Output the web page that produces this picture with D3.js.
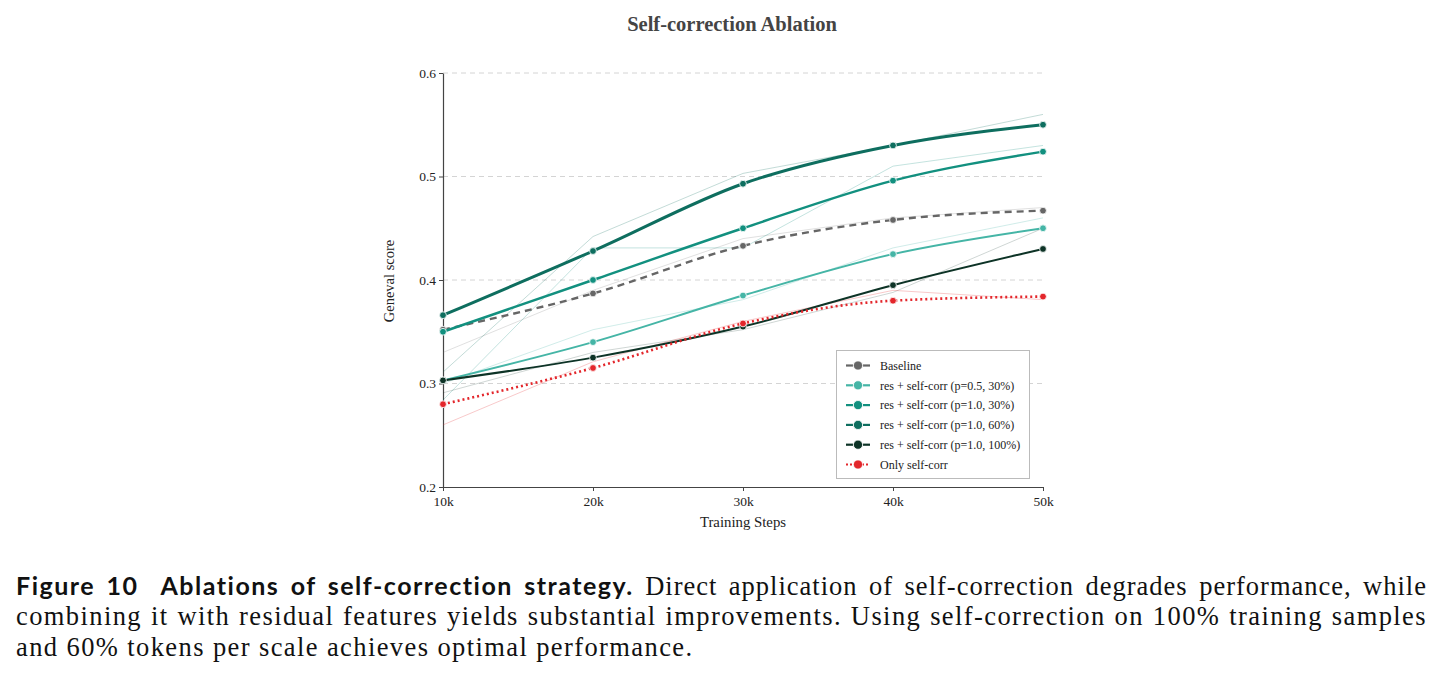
<!DOCTYPE html>
<html>
<head>
<meta charset="utf-8">
<script src="https://cdn.jsdelivr.net/npm/d3@7"></script>
<style>
  body { margin: 0; background: #fff; width: 1442px; height: 678px; overflow: hidden; position: relative; }
  svg { position: absolute; left: 0; top: 0; }
  .cap { position: absolute; left: 16px; width: 1411px; font-family: "Liberation Serif", serif; font-size: 26.5px; letter-spacing: 1.4px; line-height: 31px; color: #111; white-space: nowrap; }
  .just { text-align: justify; text-align-last: justify; white-space: normal; }
  .first { letter-spacing: 1px; }
  .fig { font-family: Lato, "Open Sans", sans-serif; font-weight: 700; font-size: 25px; letter-spacing: 1.5px; }
</style>
</head>
<body>
<svg id="chart" width="1442" height="550"></svg>
<div class="cap just first" style="top:570px"><span class="fig">Figure 10&nbsp;&nbsp;Ablations of self-correction strategy.</span> Direct application of self-correction degrades performance, while</div>
<div class="cap just" style="top:601px">combining it with residual features yields substantial improvements. Using self-correction on 100% training samples</div>
<div class="cap" style="top:632px">and 60% tokens per scale achieves optimal performance.</div>
<script>
// valeurs
const steps = [10000, 20000, 30000, 40000, 50000];
const xTickLabels = ["10k", "20k", "30k", "40k", "50k"];
const yTicks = [0.2, 0.3, 0.4, 0.5, 0.6];
const yTickLabels = ["0.2", "0.3", "0.4", "0.5", "0.6"];

const seriesNames = [
  "Baseline",
  "res + self-corr (p=0.5, 30%)",
  "res + self-corr (p=1.0, 30%)",
  "res + self-corr (p=1.0, 60%)",
  "res + self-corr (p=1.0, 100%)",
  "Only self-corr"
];

// courbes lissées
const baseline = [0.352, 0.387, 0.433, 0.458, 0.467];
const p05_30 = [0.303, 0.340, 0.385, 0.425, 0.450];
const p10_30 = [0.350, 0.400, 0.450, 0.496, 0.524];
const p10_60 = [0.366, 0.428, 0.493, 0.530, 0.550];
const p10_100 = [0.303, 0.325, 0.355, 0.395, 0.430];
const onlySelf = [0.280, 0.315, 0.358, 0.380, 0.384];

// valeurs brutes (traits pâles)
const baselineRaw = [0.330, 0.390, 0.440, 0.460, 0.470];
const p05_30Raw = [0.300, 0.352, 0.381, 0.431, 0.460];
const p10_30Raw = [0.284, 0.431, 0.431, 0.510, 0.530];
const p10_60Raw = [0.311, 0.442, 0.503, 0.530, 0.560];
const p10_100Raw = [0.291, 0.330, 0.352, 0.388, 0.450];
const onlySelfRaw = [0.260, 0.321, 0.360, 0.390, 0.381];

const smooth = [baseline, p05_30, p10_30, p10_60, p10_100, onlySelf];
const raw = [baselineRaw, p05_30Raw, p10_30Raw, p10_60Raw, p10_100Raw, onlySelfRaw];

const colors = ["#666666", "#45b5a6", "#12907f", "#0e6e5f", "#0d3326", "#e3262b"];
const widths = [2.4, 2, 2.4, 3, 2, 2.6];
const dashes = ["7,5", null, null, null, null, "2,3"];

const serif = "'Liberation Serif', 'Times New Roman', serif";
const svg = d3.select("#chart");

const x = d3.scaleLinear().domain([10000, 50000]).range([443, 1043]);
const y = d3.scaleLinear().domain([0.2, 0.6]).range([487, 73]);

// grille
svg.append("g")
  .selectAll("line")
  .data(yTicks.slice(1))
  .enter()
  .append("line")
  .attr("x1", x(10000))
  .attr("x2", x(50000))
  .attr("y1", d => y(d))
  .attr("y2", d => y(d))
  .attr("stroke", "#d4d4d4")
  .attr("stroke-width", 1)
  .attr("stroke-dasharray", "5,4");

// axes
const xAxis = d3.axisBottom(x).tickValues(steps).tickFormat((d, i) => xTickLabels[i]).tickSize(4).tickSizeOuter(0);
const yAxis = d3.axisLeft(y).tickValues(yTicks).tickFormat((d, i) => yTickLabels[i]).tickSize(4).tickSizeOuter(0);

const gx = svg.append("g").attr("transform", `translate(0, ${y(0.2)})`).call(xAxis);
const gy = svg.append("g").attr("transform", `translate(${x(10000)}, 0)`).call(yAxis);
[gx, gy].forEach(g => {
  g.select(".domain").attr("stroke", "#444").attr("stroke-width", 1.2);
  g.selectAll(".tick line").attr("stroke", "#444");
  g.selectAll(".tick text").attr("font-family", serif).attr("font-size", 13.5).attr("fill", "#222");
});
gx.selectAll(".tick text").attr("dy", "0.9em");

// lignes brutes
const rawLine = d3.line().x((d, i) => x(steps[i])).y(d => y(d));
svg.append("g")
  .selectAll("path")
  .data(raw)
  .enter()
  .append("path")
  .attr("d", rawLine)
  .attr("fill", "none")
  .attr("stroke", (d, i) => colors[i])
  .attr("stroke-opacity", (d, i) => i === 0 || i === 4 ? 0.2 : 0.25)
  .attr("stroke-width", 1);

// courbes lissées
const smoothLine = d3.line().x((d, i) => x(steps[i])).y(d => y(d)).curve(d3.curveMonotoneX);
const order = [0, 1, 2, 4, 5, 3];
order.forEach(k => {
  svg.append("path")
    .attr("d", smoothLine(smooth[k]))
    .attr("fill", "none")
    .attr("stroke", colors[k])
    .attr("stroke-width", widths[k])
    .attr("stroke-dasharray", dashes[k]);
  svg.append("g")
    .selectAll("circle")
    .data(smooth[k])
    .enter()
    .append("circle")
    .attr("cx", (d, i) => x(steps[i]))
    .attr("cy", d => y(d))
    .attr("r", 3.4)
    .attr("fill", colors[k])
    .attr("stroke", "#fff")
    .attr("stroke-width", 0.8);
});

// titres
svg.append("text")
  .attr("x", 732)
  .attr("y", 31)
  .attr("text-anchor", "middle")
  .attr("font-family", serif)
  .attr("font-weight", "bold")
  .attr("font-size", 20.5)
  .attr("fill", "#444")
  .text("Self-correction Ablation");

svg.append("text")
  .attr("x", 743)
  .attr("y", 527)
  .attr("text-anchor", "middle")
  .attr("font-family", serif)
  .attr("font-size", 14.8)
  .attr("fill", "#222")
  .text("Training Steps");

svg.append("text")
  .attr("transform", "rotate(-90)")
  .attr("x", -281)
  .attr("y", 394)
  .attr("text-anchor", "middle")
  .attr("font-family", serif)
  .attr("font-size", 14.5)
  .attr("fill", "#222")
  .text("Geneval score");

// légende
const legend = svg.append("g");
legend.append("rect")
  .attr("x", 836.5)
  .attr("y", 350.5)
  .attr("width", 193)
  .attr("height", 128)
  .attr("fill", "#fff")
  .attr("stroke", "#bbb");

const items = legend.selectAll("g.item")
  .data(seriesNames)
  .enter()
  .append("g")
  .attr("transform", (d, i) => `translate(0, ${365.5 + i * 19.8})`);

// petits traits de part et d'autre du marqueur
items.each(function (d, i) {
  const g = d3.select(this);
  const segs = i === 5 ? [[846, 870]] : [[846, 853], [863, 870]];
  segs.forEach(s => {
    g.append("line")
      .attr("x1", s[0])
      .attr("x2", s[1])
      .attr("stroke", colors[i])
      .attr("stroke-width", 2.2)
      .attr("stroke-dasharray", i === 5 ? "2,2" : null);
  });
});

items.append("circle")
  .attr("cx", 858)
  .attr("r", 4.6)
  .attr("fill", (d, i) => colors[i])
  .attr("stroke", "#fff")
  .attr("stroke-width", 0.8);

items.append("text")
  .attr("x", 880)
  .attr("dy", "0.35em")
  .attr("font-family", serif)
  .attr("font-size", 12)
  .attr("fill", "#222")
  .text(d => d);
</script>
</body>
</html>
